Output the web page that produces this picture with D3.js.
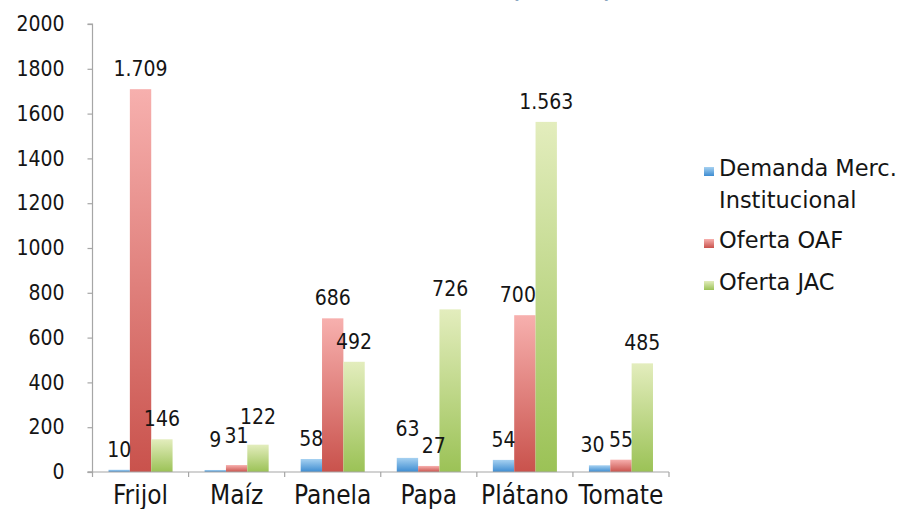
<!DOCTYPE html>
<html>
<head>
<meta charset="utf-8">
<script src="https://cdn.jsdelivr.net/npm/d3@7"></script>
<style>
  html, body { margin: 0; padding: 0; background: #fff; }
  svg { display: block; font-family: "DejaVu Sans", sans-serif; }
</style>
</head>
<body>
<svg id="chart" width="902" height="509"></svg>
<script>
// Products and series
const categories = ["Frijol", "Maíz", "Panela", "Papa", "Plátano", "Tomate"];
const seriesNames = ["Demanda Merc. Institucional", "Oferta OAF", "Oferta JAC"];
const demanda = [10, 9, 58, 63, 54, 30];
const ofertaOAF = [1709, 31, 686, 27, 700, 55];
const ofertaJAC = [146, 122, 492, 726, 1563, 485];
const yTicks = [0, 200, 400, 600, 800, 1000, 1200, 1400, 1600, 1800, 2000];

const seriesValues = [demanda, ofertaOAF, ofertaJAC];
const gradStops = [
  ["#a6d1f1", "#3d8cd1"],
  ["#f7b0ae", "#c9524c"],
  ["#e3edbd", "#9bc256"]
];

// Hand-nudged label offsets (series index, category index) -> [dx, dy]
const labelNudge = {
  "0-1": [0, -10], "1-1": [0, -9], "2-1": [0, -8],
  "0-3": [0, -9], "1-3": [5, 0],
  "1-4": [-7, 0], "0-5": [-7, 0]
};

const fmt = v => v >= 1000 ? d3.format(",")(v).replace(",", ".") : String(v);

const svg = d3.select("#chart");
const plotLeft = 92.5, plotRight = 669, plotTop = 24, plotBottom = 472;
const textColor = "#151515";
const numFont = "DejaVu Sans Condensed";

const x = d3.scaleBand().domain(categories).range([plotLeft, plotRight]).paddingInner(0).paddingOuter(0);
const bw = x.bandwidth();
const xs = d3.scaleBand().domain(d3.range(3)).range([bw / 6, bw * 5 / 6]);
const y = d3.scaleLinear().domain([0, 2000]).range([plotBottom, plotTop]);

// Gradients
const defs = svg.append("defs");
gradStops.forEach((c, i) => {
  const g = defs.append("linearGradient").attr("id", "g" + i)
    .attr("x1", 0).attr("y1", 0).attr("x2", 0).attr("y2", 1);
  g.append("stop").attr("offset", "0%").attr("stop-color", c[0]);
  g.append("stop").attr("offset", "100%").attr("stop-color", c[1]);
});

// Title (clipped by the top edge)
svg.append("text")
  .attr("x", 612).attr("y", -2.5)
  .attr("text-anchor", "end")
  .attr("font-size", 19).attr("font-weight", "bold")
  .attr("fill", "#1f5f8f")
  .text("Oferta vs demanda (Ton/año)");

// Bars
seriesValues.forEach((vals, s) => {
  svg.append("g").selectAll("rect").data(vals).join("rect")
    .attr("x", (d, i) => x(categories[i]) + xs(s))
    .attr("width", xs.bandwidth())
    .attr("y", d => y(d))
    .attr("height", d => y(0) - y(d))
    .attr("fill", `url(#g${s})`);
});

// Axes
const axisColor = "#a6a6a6";
const yAxis = svg.append("g").attr("transform", `translate(${plotLeft},0)`)
  .call(d3.axisLeft(y).tickValues(yTicks).tickSize(5).tickPadding(23).tickFormat(d3.format("d")));
const xAxis = svg.append("g").attr("transform", `translate(0,${plotBottom})`)
  .call(d3.axisBottom(x).tickSize(0).tickPadding(12));

// x-axis boundary ticks
svg.append("g").selectAll("line").data(d3.range(categories.length + 1)).join("line")
  .attr("x1", i => plotLeft + i * bw).attr("x2", i => plotLeft + i * bw)
  .attr("y1", plotBottom).attr("y2", plotBottom + 5)
  .attr("stroke", axisColor).attr("stroke-width", 1.2);

[yAxis, xAxis].forEach(a => {
  a.selectAll("path, line").attr("stroke", axisColor).attr("stroke-width", 1.2);
  a.selectAll("text").attr("fill", textColor).attr("font-family", numFont);
});
yAxis.select(".domain").attr("d", `M-5,${plotBottom}H0V${plotTop}H-5`);
xAxis.select(".domain").attr("d", `M${plotLeft - 5},0H${plotRight}`);
yAxis.selectAll("text").attr("font-size", 21);
xAxis.selectAll("text").attr("font-size", 26).attr("y", 32).attr("dy", 0);

// Value labels
seriesValues.forEach((vals, s) => {
  svg.append("g").selectAll("text").data(vals).join("text")
    .attr("x", (d, i) => x(categories[i]) + xs(s) + xs.bandwidth() / 2 + (labelNudge[s + "-" + i] || [0, 0])[0])
    .attr("y", (d, i) => y(d) - 13 + (labelNudge[s + "-" + i] || [0, 0])[1])
    .attr("text-anchor", "middle")
    .attr("font-family", numFont)
    .attr("font-size", 21)
    .attr("fill", textColor)
    .text(d => fmt(d));
});

// Legend
const legend = svg.append("g");
const legendRows = [
  { lines: ["Demanda Merc.", "Institucional"], base: 176 },
  { lines: ["Oferta OAF"], base: 248 },
  { lines: ["Oferta JAC"], base: 290 }
];
legendRows.forEach((r, i) => {
  legend.append("rect")
    .attr("x", 704).attr("y", r.base - 9).attr("width", 10).attr("height", 9)
    .attr("fill", `url(#g${i})`);
  const t = legend.append("text")
    .attr("x", 719).attr("y", r.base)
    .attr("font-size", 22.5).attr("fill", textColor);
  r.lines.forEach((ln, k) => {
    t.append("tspan").attr("x", 719).attr("dy", k === 0 ? 0 : 32).text(ln);
  });
});
</script>
</body>
</html>
